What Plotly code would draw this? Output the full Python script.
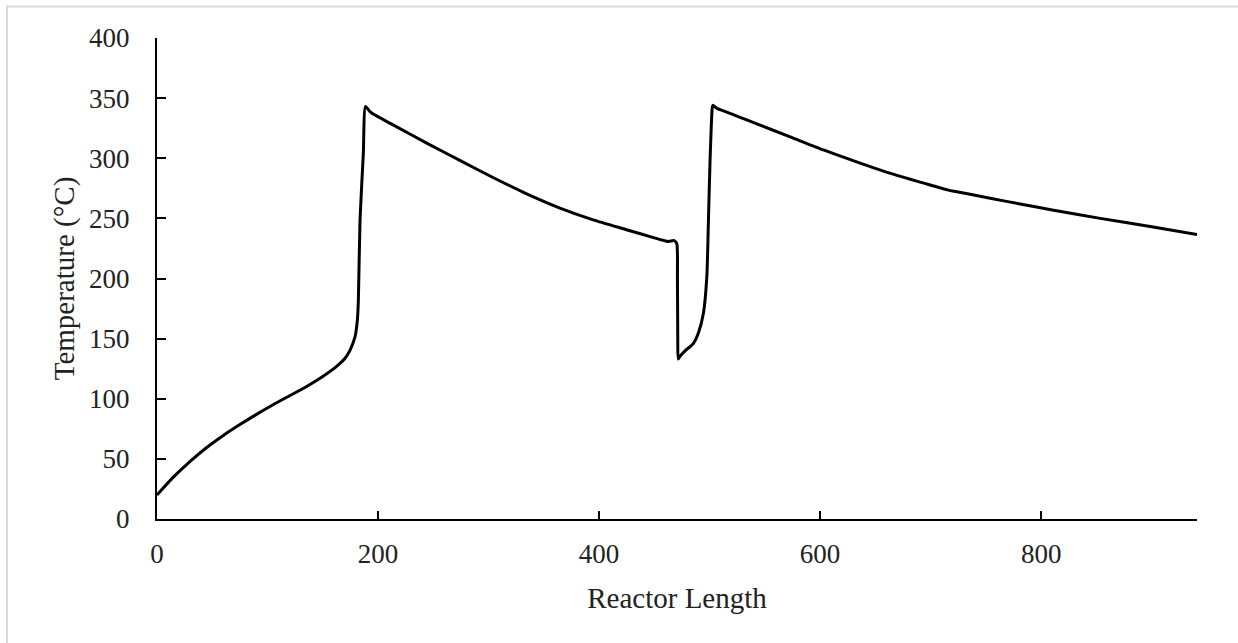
import plotly.graph_objects as go

reactor_length = [
    0, 15, 30, 45, 60, 75, 90, 105, 120, 135, 150, 160, 165.6, 170, 174.7, 179.2,
    181.3, 182.2, 183.7, 186.7, 188.7, 192.8, 196, 214, 244, 274, 304, 334, 364,
    394, 424, 450, 460, 463, 468, 470.3, 470.9, 471.2, 471.6, 473, 478,
    485.4, 490, 494.4, 497.5, 498.8, 500.4, 502.3, 502.9, 506.5, 512.5, 527.6, 542.7,
    572.9, 603, 633, 663, 693, 716, 723.7, 753.8, 781, 810, 853.4, 900, 941
]
temperature = [
    20, 35, 48, 59.5, 69.5, 78.5, 87, 95, 102.5, 110, 118.5, 125, 129.4, 133.5,
    140.5, 151.6, 165.5, 182, 248.7, 304, 343, 338.7, 336.5, 327.6, 312.6, 298.2,
    284.0, 270.6, 258.8, 249.0, 240.8, 233.8, 231.2, 230.8, 231.5, 229, 200, 150, 133,
    135, 140, 146.1, 155, 171, 201.5, 243, 298, 341, 344, 341.5, 339.4, 334.0, 328.6,
    317.8, 306.9, 297.0, 287.6, 279.5, 273.5, 272.2, 266.7, 262, 257, 250, 243, 236.5
]

x_ticks = [0, 200, 400, 600, 800]
y_ticks = [0, 50, 100, 150, 200, 250, 300, 350, 400]

font_family = "Liberation Serif, Times New Roman, serif"

fig = go.Figure()
fig.add_trace(go.Scatter(
    x=reactor_length, y=temperature, mode="lines",
    line=dict(color="black", width=3, shape="spline", smoothing=0.6),
    showlegend=False, hoverinfo="skip",
))

fig.update_layout(
    width=1238, height=643,
    margin=dict(l=157, r=41, t=38, b=124),
    paper_bgcolor="white", plot_bgcolor="white",
    font=dict(family=font_family, size=27, color="#222222"),
    xaxis=dict(
        range=[0, 941], tickvals=x_ticks, ticktext=[str(v) for v in x_ticks],
        showgrid=False, zeroline=False, showline=True, linecolor="black", linewidth=2,
        ticks="inside", ticklen=8, tickwidth=2, tickcolor="black",
        ticklabelstandoff=10,
        title=dict(text="Reactor Length", standoff=19, font=dict(size=29)),
    ),
    yaxis=dict(
        range=[0, 400], tickvals=y_ticks, ticktext=[str(v) for v in y_ticks],
        showgrid=False, zeroline=False, showline=True, linecolor="black", linewidth=2,
        ticks="inside", ticklen=9, tickwidth=2, tickcolor="black",
        ticklabelstandoff=20,
        title=dict(text="Temperature (°C)", standoff=6, font=dict(size=29)),
    ),
    shapes=[dict(
        type="rect", xref="paper", yref="paper",
        x0=(7 - 157) / 1040, x1=1.2, y0=-0.5, y1=(519 - 6.5) / 481,
        line=dict(color="#d9d9d9", width=2), fillcolor="rgba(0,0,0,0)", layer="below",
    )],
)

fig.write_html("out.html")
